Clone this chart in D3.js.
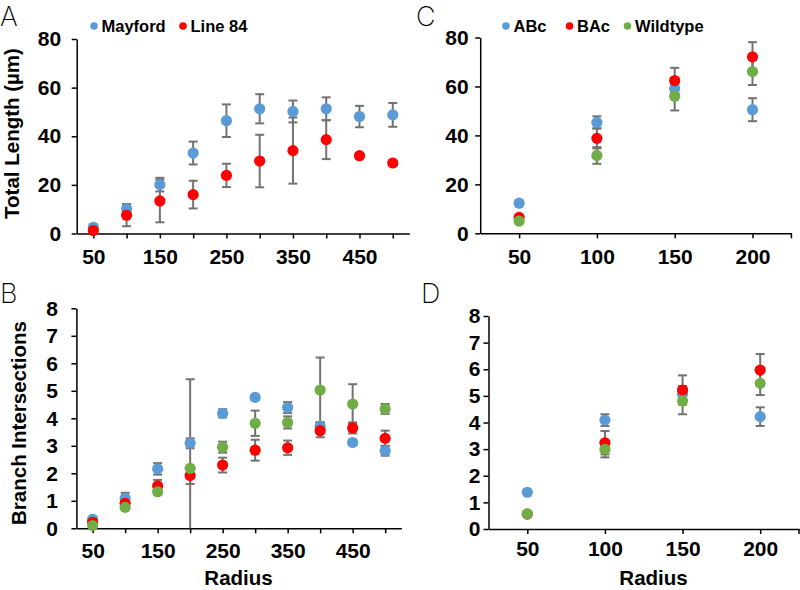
<!DOCTYPE html>
<html>
<head>
<meta charset="utf-8">
<script src="https://cdn.jsdelivr.net/npm/d3@7"></script>
<style>
  html, body { margin: 0; padding: 0; background: #fff; }
  svg text { font-family: "Liberation Sans", Arial, Helvetica, sans-serif; }
</style>
</head>
<body>
<svg id="chart" width="800" height="590"></svg>
<script>
// ---------- DATA ----------
const radiusLong = [50, 100, 150, 200, 250, 300, 350, 400, 450, 500];
const radiusShort = [50, 100, 150, 200];
const longTickLabels = [50, 150, 250, 350, 450];
const shortTickLabels = [50, 100, 150, 200];
const lengthTicks = [0, 20, 40, 60, 80];
const intersectionTicks = [0, 1, 2, 3, 4, 5, 6, 7, 8];

// Panel A: Total length
const mayfordLength    = [2.5, 10.1, 20.1, 33.1, 46.4, 51.3, 50.2, 51.3, 48.1, 48.8];
const mayfordLengthErr = [1.2, 2.0, 2.8, 4.7, 6.7, 6.0, 4.5, 4.7, 4.4, 4.9];
const line84Length     = [1.2, 7.5, 13.4, 16.0, 23.9, 29.8, 34.1, 38.6, 32.0, 29.0];
const line84LengthErr  = [0.8, 4.5, 8.8, 5.7, 4.8, 10.8, 13.6, 8.0, 1.0, 1.0];

// Panel B: Branch intersections
const blueIntersect    = [0.33, 1.09, 2.16, 3.09, 4.18, 4.76, 4.39, 3.70, 3.12, 2.82];
const blueIntersectErr = [0.08, 0.20, 0.21, 0.18, 0.15, 0.08, 0.20, 0.15, 0.10, 0.18];
const redIntersect     = [0.22, 0.91, 1.54, 1.92, 2.30, 2.84, 2.93, 3.55, 3.65, 3.27];
const redIntersectErr  = [0.05, 0.10, 0.22, 0.31, 0.27, 0.38, 0.26, 0.24, 0.20, 0.28];
const greenIntersect   = [0.10, 0.76, 1.33, 2.18, 2.95, 3.82, 3.85, 5.03, 4.52, 4.34];
const greenIntersectErr= [0.05, 0.08, 0.10, 3.24, 0.20, 0.46, 0.22, 1.18, 0.72, 0.18];

// Panel C: Total length by genotype
const abcLength    = [12.3, 45.3, 59.1, 50.5];
const abcLengthErr = [0.8, 2.5, 2.0, 4.7];
const bacLength    = [6.5, 38.8, 62.4, 72.1];
const bacLengthErr = [0.8, 4.1, 5.2, 6.0];
const wtLength     = [5.0, 31.8, 56.0, 66.1];
const wtLengthErr  = [0.6, 3.4, 5.8, 5.5];

// Panel D: Branch intersections by genotype
const abcIntersect    = [1.38, 4.09, 5.07, 4.22];
const abcIntersectErr = [0.05, 0.22, 0.30, 0.35];
const bacIntersect    = [0.56, 3.24, 5.22, 5.97];
const bacIntersectErr = [0.05, 0.44, 0.55, 0.60];
const wtIntersect     = [0.57, 2.99, 4.81, 5.47];
const wtIntersectErr  = [0.05, 0.30, 0.50, 0.44];

const BLUE = "#5B9BD5", RED = "#FF0000", GREEN = "#70AD47", ERR = "#767171";

// ---------- DRAW ----------
const svg = d3.select("#chart");

function panel(cfg) {
  const g = svg.append("g");
  const x = d3.scalePoint().domain(cfg.cats).range(cfg.xRange).padding(0.5);
  const y = d3.scaleLinear().domain(cfg.yDomain).range(cfg.yRange).clamp(true);

  const ya = g.append("g").attr("transform", `translate(${cfg.xRange[0]},0)`)
    .call(d3.axisLeft(y).tickValues(cfg.yTicks).tickSize(5).tickSizeOuter(0).tickPadding(cfg.yPad));
  const xa = g.append("g").attr("transform", `translate(0,${cfg.yRange[0]})`)
    .call(d3.axisBottom(x).tickSize(5).tickSizeOuter(0).tickPadding(cfg.xPad)
      .tickFormat(d => cfg.xLabels.includes(d) ? d : ""));
  if (cfg.endTick) {
    xa.append("line").attr("x1", cfg.xRange[1]).attr("x2", cfg.xRange[1])
      .attr("y1", 0).attr("y2", 5).attr("stroke", "#000").attr("stroke-width", 1.5);
  }
  [ya, xa].forEach(a => {
    a.select(".domain").attr("stroke", "#000").attr("stroke-width", 1.5);
    a.selectAll(".tick line").attr("stroke", "#000").attr("stroke-width", 1.5);
    a.selectAll(".tick text").attr("fill", "#000")
      .style("font-size", "21px").style("font-weight", "bold")
      .style("font-family", '"Liberation Sans", Arial, sans-serif');
  });

  // error bars
  cfg.series.forEach(s => {
    const eg = g.append("g");
    s.values.forEach((v, i) => {
      const cx = x(cfg.cats[i]);
      const lo = y(v - s.err[i]), hi = y(v + s.err[i]);
      eg.append("line").attr("x1", cx).attr("x2", cx).attr("y1", lo).attr("y2", hi)
        .attr("stroke", ERR).attr("stroke-width", 2);
      [lo, hi].forEach(yy => {
        if ((v - s.err[i]) < cfg.yDomain[0] && yy === lo) return;
        eg.append("line").attr("x1", cx - 4.5).attr("x2", cx + 4.5).attr("y1", yy).attr("y2", yy)
          .attr("stroke", ERR).attr("stroke-width", 2);
      });
    });
  });
  // markers
  cfg.series.forEach(s => {
    g.append("g").selectAll("circle").data(s.values).join("circle")
      .attr("cx", (d, i) => x(cfg.cats[i])).attr("cy", d => y(d))
      .attr("r", 5.6).attr("fill", s.color);
  });
}

panel({
  cats: radiusLong, xLabels: longTickLabels, xRange: [76.7, 409.4],
  yDomain: [0, 80], yRange: [233.5, 39], yTicks: lengthTicks, yPad: 10.5, xPad: 11,
  series: [
    { color: BLUE, values: mayfordLength, err: mayfordLengthErr },
    { color: RED, values: line84Length, err: line84LengthErr }
  ]
});
panel({
  cats: radiusLong, xLabels: longTickLabels, xRange: [76.4, 401.4],
  yDomain: [0, 8], yRange: [528.3, 308.3], yTicks: intersectionTicks, yPad: 13.5, xPad: 9.5,
  series: [
    { color: BLUE, values: blueIntersect, err: blueIntersectErr },
    { color: RED, values: redIntersect, err: redIntersectErr },
    { color: GREEN, values: greenIntersect, err: greenIntersectErr }
  ]
});
panel({
  cats: radiusShort, xLabels: shortTickLabels, xRange: [480.2, 791.4], endTick: true,
  yDomain: [0, 80], yRange: [233.3, 37.5], yTicks: lengthTicks, yPad: 6.5, xPad: 11,
  series: [
    { color: BLUE, values: abcLength, err: abcLengthErr },
    { color: RED, values: bacLength, err: bacLengthErr },
    { color: GREEN, values: wtLength, err: wtLengthErr }
  ]
});
panel({
  cats: radiusShort, xLabels: shortTickLabels, xRange: [488.5, 799], endTick: true,
  yDomain: [0, 8], yRange: [529, 316], yTicks: intersectionTicks, yPad: 3, xPad: 7.5,
  series: [
    { color: BLUE, values: abcIntersect, err: abcIntersectErr },
    { color: RED, values: bacIntersect, err: bacIntersectErr },
    { color: GREEN, values: wtIntersect, err: wtIntersectErr }
  ]
});

// axis titles
function title(txt, x, y, rot) {
  svg.append("text").text(txt)
    .attr("transform", `translate(${x},${y}) rotate(${rot})`)
    .attr("text-anchor", "middle")
    .style("font-size", "20.5px").style("font-weight", "bold").attr("fill", "#000");
}
title("Total Length (µm)", 19, 133.5, -90);
title("Branch Intersections", 26, 423, -90);
title("Radius", 238.5, 584.5, 0);
title("Radius", 653.5, 584.5, 0);

// legends
function legend(items, y) {
  items.forEach(it => {
    svg.append("circle").attr("cx", it.x).attr("cy", y).attr("r", 3.8).attr("fill", it.color);
    svg.append("text").text(it.label).attr("x", it.x + 7.5).attr("y", y + 5.8)
      .style("font-size", "16.5px").style("font-weight", "bold").attr("fill", "#000");
  });
}
legend([{ x: 94, color: BLUE, label: "Mayford" }, { x: 183, color: RED, label: "Line 84" }], 26);
legend([{ x: 506, color: BLUE, label: "ABc" }, { x: 569.5, color: RED, label: "BAc" },
        { x: 627.5, color: GREEN, label: "Wildtype" }], 26);

// panel letters
[["A", 0, 26], ["C", 416, 26], ["B", 0, 303], ["D", 421, 303]].forEach(([t, x, y]) => {
  svg.append("text").text(t).attr("x", x).attr("y", y)
    .style("font-family", 'Inter, Lato, "Open Sans", "DejaVu Sans", sans-serif')
    .style("font-weight", "200").style("font-size", "27px").attr("fill", "#000");
});
</script>
</body>
</html>
